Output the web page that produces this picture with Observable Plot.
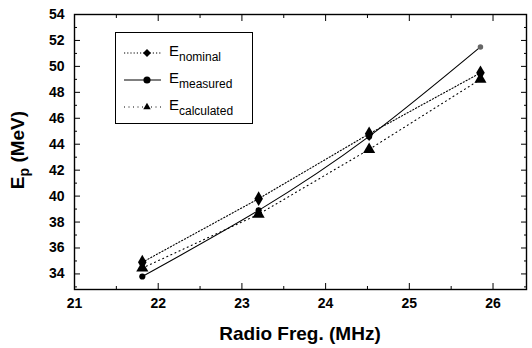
<!DOCTYPE html>
<html><head>
<meta charset="utf-8">
<script src="https://cdn.jsdelivr.net/npm/d3@7"></script>
<script src="https://cdn.jsdelivr.net/npm/@observablehq/plot@0.6"></script>
<style>
body{margin:0;background:#fff;font-family:"Liberation Sans",Arial,sans-serif}
#wrap{position:relative;width:532px;height:348px}
.legend{position:absolute;left:115px;top:32px;width:138px;height:92px;border:1.3px solid #000;box-sizing:border-box;background:#fff;font-size:15px;color:#000}
.row{position:absolute;left:8px;height:20px;display:flex;align-items:center}
.row svg{display:block}
.row span{margin-left:8px}
.row sub{font-size:12px;vertical-align:-5px}
</style></head><body><div id="wrap"></div>
<script>
const freq = [21.81, 23.2, 24.52, 25.85];
const eNominal = [34.9, 39.8, 44.8, 49.5];
const eMeasured = [33.8, 38.9, 44.6, 51.5];
const eCalculated = [34.45, 38.6, 43.6, 49.0];
const seriesNames = ["nominal", "measured", "calculated"];
const xTicks = [21, 22, 23, 24, 25, 26];
const xMinor = [21.5, 22.5, 23.5, 24.5, 25.5];
const yTicks = [34, 36, 38, 40, 42, 44, 46, 48, 50, 52, 54];
const yMinor = [33, 35, 37, 39, 41, 43, 45, 47, 49, 51, 53];

const rows = freq.map((f, i) => ({f, nominal: eNominal[i], measured: eMeasured[i], calculated: eCalculated[i]}));
const font = {fontFamily: "Liberation Sans, Arial, sans-serif", fontWeight: "bold", fontSize: 14};

const chart = Plot.plot({
  width: 532, height: 348,
  marginLeft: 74, marginRight: 6, marginTop: 14, marginBottom: 59,
  x: {domain: [21, 26.4]},
  y: {domain: [32.8, 54]},
  style: {background: "#fff", color: "#000"},
  marks: [
    Plot.line(rows, {x: "f", y: "nominal", stroke: "#000", strokeWidth: 1.1, strokeDasharray: "1.2,2"}),
    Plot.line(rows, {x: "f", y: "calculated", stroke: "#000", strokeWidth: 1.1, strokeDasharray: "1,3.5"}),
    Plot.line(rows, {x: "f", y: "measured", stroke: "#000", strokeWidth: 1.1, curve: "natural"}),
    Plot.dot(rows, {x: "f", y: "nominal", symbol: "diamond", r: 4.5, fill: "#000"}),
    Plot.dot(rows, {x: "f", y: "calculated", symbol: "triangle", r: 4.5, fill: "#000"}),
    Plot.dot(rows, {x: "f", y: "measured", symbol: "circle", r: d => d.f > 25.5 ? 3.2 : 4, fill: d => d.f > 25.5 ? "#666" : "#000"}),
    Plot.frame({stroke: "#000", strokeWidth: 1.4}),
    Plot.axisX({anchor: "bottom", ticks: xTicks, tickFormat: "d", tickSize: 0, tickPadding: 9, label: null, ...font}),
    Plot.axisY({anchor: "left", ticks: yTicks, tickFormat: "d", tickSize: 0, tickPadding: 10, label: null, ...font}),
    Plot.axisX({anchor: "bottom", ticks: xTicks, tickSize: -6, tickFormat: () => "", label: null}),
    Plot.axisX({anchor: "bottom", ticks: xMinor, tickSize: -3, tickFormat: () => "", label: null}),
    Plot.axisX({anchor: "top", ticks: xTicks, tickSize: -6, tickFormat: () => "", label: null}),
    Plot.axisX({anchor: "top", ticks: xMinor, tickSize: -3, tickFormat: () => "", label: null}),
    Plot.axisY({anchor: "left", ticks: yTicks, tickSize: -6, tickFormat: () => "", label: null}),
    Plot.axisY({anchor: "left", ticks: yMinor, tickSize: -3, tickFormat: () => "", label: null}),
    Plot.axisY({anchor: "right", ticks: yTicks, tickSize: -6, tickFormat: () => "", label: null}),
    Plot.axisY({anchor: "right", ticks: yMinor, tickSize: -3, tickFormat: () => "", label: null})
  ]
});

const svg = d3.select(chart);
svg.append("text")
  .attr("x", 300).attr("y", 340)
  .attr("text-anchor", "middle")
  .attr("font-family", "Liberation Sans, Arial, sans-serif")
  .attr("font-weight", "bold").attr("font-size", 19)
  .text("Radio Freg. (MHz)");
const yl = svg.append("text")
  .attr("transform", "translate(24,150) rotate(-90)")
  .attr("text-anchor", "middle")
  .attr("font-family", "Liberation Sans, Arial, sans-serif")
  .attr("font-weight", "bold").attr("font-size", 19);
yl.append("tspan").text("E");
yl.append("tspan").attr("font-size", 14).attr("dy", 5).text("p");
yl.append("tspan").attr("dy", -5).text(" (MeV)");

const wrap = document.getElementById("wrap");
wrap.appendChild(chart);

const legend = document.createElement("div");
legend.className = "legend";
const legendStyles = {
  nominal: {dash: "1.2,2", sym: "diamond"},
  measured: {dash: null, sym: "circle"},
  calculated: {dash: "1,3.5", sym: "triangle"}
};
seriesNames.forEach((name, i) => {
  const row = document.createElement("div");
  row.className = "row";
  row.style.top = (10 + i * 27) + "px";
  const s = legendStyles[name];
  const mini = d3.create("svg").attr("width", 37).attr("height", 12);
  mini.append("line").attr("x1", 0).attr("x2", 37).attr("y1", 6).attr("y2", 6)
    .attr("stroke", "#000").attr("stroke-width", 1)
    .attr("stroke-dasharray", s.dash);
  mini.append("path").attr("transform", "translate(23,6)")
    .attr("d", d3.symbol(s.sym === "diamond" ? d3.symbolDiamond2 : s.sym === "circle" ? d3.symbolCircle : d3.symbolTriangle2, 40)())
    .attr("fill", "#000");
  row.appendChild(mini.node());
  const lab = document.createElement("span");
  lab.innerHTML = "E<sub>" + name + "</sub>";
  row.appendChild(lab);
  legend.appendChild(row);
});
wrap.appendChild(legend);
</script>
</body></html>
